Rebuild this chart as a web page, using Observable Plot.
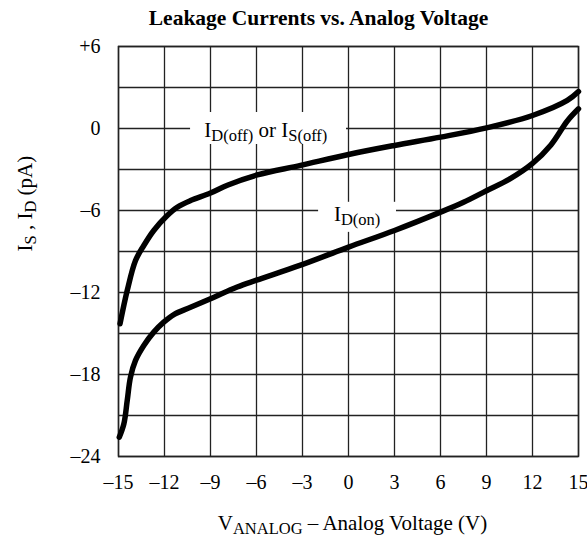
<!DOCTYPE html>
<html><head><meta charset="utf-8">
<script src="https://cdn.jsdelivr.net/npm/d3@7"></script>
<script src="https://cdn.jsdelivr.net/npm/@observablehq/plot@0.6"></script>
<style>
body{margin:0;background:#fff;}
svg{font-family:"Liberation Serif","Times New Roman",serif;}
</style>
</head><body><div id="chart"></div>
<script>
// ---- data ----
const offVoltage = [-14.9, -14.43, -13.89, -13.35, -12.7, -11.82, -11.17, -10.3, -9.0, -7.9, -5.95, -3.13, 0, 3, 6, 9, 12, 14.27, 15];
const offCurrent = [-14.29, -11.85, -9.66, -8.56, -7.46, -6.37, -5.76, -5.27, -4.72, -4.15, -3.4, -2.7, -1.9, -1.24, -0.63, 0.05, 0.95, 2.05, 2.7];
const onVoltage = [-14.95, -14.65, -14.43, -14.22, -13.89, -13.35, -12.7, -12.05, -11.39, -10.3, -9.0, -7.26, -6, -3.13, 0, 3, 6, 7.5, 9, 10.5, 12, 13.2, 14.27, 15];
const onCurrent = [-22.59, -21.61, -19.9, -18.2, -16.97, -15.88, -14.9, -14.17, -13.61, -13.08, -12.46, -11.6, -11.1, -10.0, -8.68, -7.46, -6.12, -5.4, -4.55, -3.7, -2.55, -1.2, 0.55, 1.44];

const xTicks = [-15, -12, -9, -6, -3, 0, 3, 6, 9, 12, 15];
const xTickLabels = ["–15", "–12", "–9", "–6", "–3", "0", "3", "6", "9", "12", "15"];
const yTicks = [6, 0, -6, -12, -18, -24];
const yTickLabels = ["+6", "0", "–6", "–12", "–18", "–24"];
const xGrid = [-15, -12, -9, -6, -3, 0, 3, 6, 9, 12, 15];
const yGrid = [6, 3, 0, -3, -6, -9, -12, -15, -18, -21, -24];

const title = "Leakage Currents vs. Analog Voltage";
const xLabel = "VANALOG – Analog Voltage (V)";
const yLabel = "IS , ID (pA)";
const curveLabels = [
  {key: "off", text: "ID(off) or IS(off)", x: -9.4, y: 0, x1: -10.3, x2: -0.13, y1: -1.17, y2: 1.17},
  {key: "on", text: "ID(on)", x: -0.95, y: -6, x1: -1.95, x2: 3.13, y1: -7.6, y2: -5.4}
];

const offData = offVoltage.map((v, i) => ({v, c: offCurrent[i]}));
const onData = onVoltage.map((v, i) => ({v, c: onCurrent[i]}));

const gridColor = "#222";
const mainSize = 21, subSize = 16.5;
const chart = Plot.plot({
  width: 587,
  height: 538,
  marginLeft: 118,
  marginRight: 9,
  marginTop: 46,
  marginBottom: 82,
  style: {fontFamily: "'Liberation Serif', 'Times New Roman', serif", background: "white"},
  x: {domain: [-15, 15]},
  y: {domain: [-24, 6]},
  marks: [
    Plot.ruleX(xGrid, {stroke: gridColor, strokeWidth: 1.3}),
    Plot.ruleY(yGrid, {stroke: gridColor, strokeWidth: 1.3}),
    Plot.frame({stroke: gridColor, strokeWidth: 1.5}),
    Plot.rect(curveLabels, {x1: "x1", x2: "x2", y1: "y1", y2: "y2", fill: "white"}),
    Plot.line(offData, {x: "v", y: "c", stroke: "black", strokeWidth: 5.5, curve: "catmull-rom", strokeLinecap: "round"}),
    Plot.line(onData, {x: "v", y: "c", stroke: "black", strokeWidth: 5.5, curve: "catmull-rom", strokeLinecap: "round"}),
    Plot.text([curveLabels[0]], {x: "x", y: "y", text: "text", textAnchor: "start", fontSize: mainSize, fill: "black", dy: 2}),
    Plot.text([curveLabels[1]], {x: "x", y: "y", text: "text", textAnchor: "start", fontSize: mainSize, fill: "black", dy: 4}),
    Plot.axisX({ticks: xTicks, tickSize: 0, tickPadding: 18, fontSize: 20, label: null,
      tickFormat: d => xTickLabels[xTicks.indexOf(d)], color: "black"}),
    Plot.axisY({ticks: yTicks, tickSize: 0, tickPadding: 18, fontSize: 20, label: null,
      tickFormat: d => yTickLabels[yTicks.indexOf(d)], color: "black"}),
    Plot.text([xLabel], {frameAnchor: "bottom", dy: 73, dx: 4, fontSize: mainSize, lineAnchor: "bottom", fill: "black"}),
    Plot.text([yLabel], {frameAnchor: "left", dx: -93, rotate: -90, fontSize: mainSize, fill: "black"}),
    Plot.text([title], {frameAnchor: "top", dy: -22, dx: -30, fontSize: 21.5, fontWeight: "bold", lineAnchor: "bottom", fill: "black"})
  ]
});
document.getElementById("chart").appendChild(chart);

// subscripts
const subs = {
  "ID(off) or IS(off)": [["I", 0], ["D(off)", 1], [" or I", 0], ["S(off)", 1]],
  "ID(on)": [["I", 0], ["D(on)", 1]],
  "VANALOG – Analog Voltage (V)": [["V", 0], ["ANALOG", 1], [" – Analog Voltage (V)", 0]],
  "IS , ID (pA)": [["I", 0], ["S", 1], [" , I", 0], ["D", 1], [" (pA)", 0]]
};
d3.select(chart).selectAll("text").each(function() {
  const t = this.textContent;
  if (!subs[t]) return;
  const el = d3.select(this);
  el.text(null);
  let prev = 0;
  for (const [s, sub] of subs[t]) {
    const ts = el.append("tspan").text(s);
    if (sub) { ts.attr("font-size", subSize).attr("dy", prev ? 0 : 4); }
    else if (prev) { ts.attr("dy", -4); }
    prev = sub;
  }
});
</script>
</body></html>
